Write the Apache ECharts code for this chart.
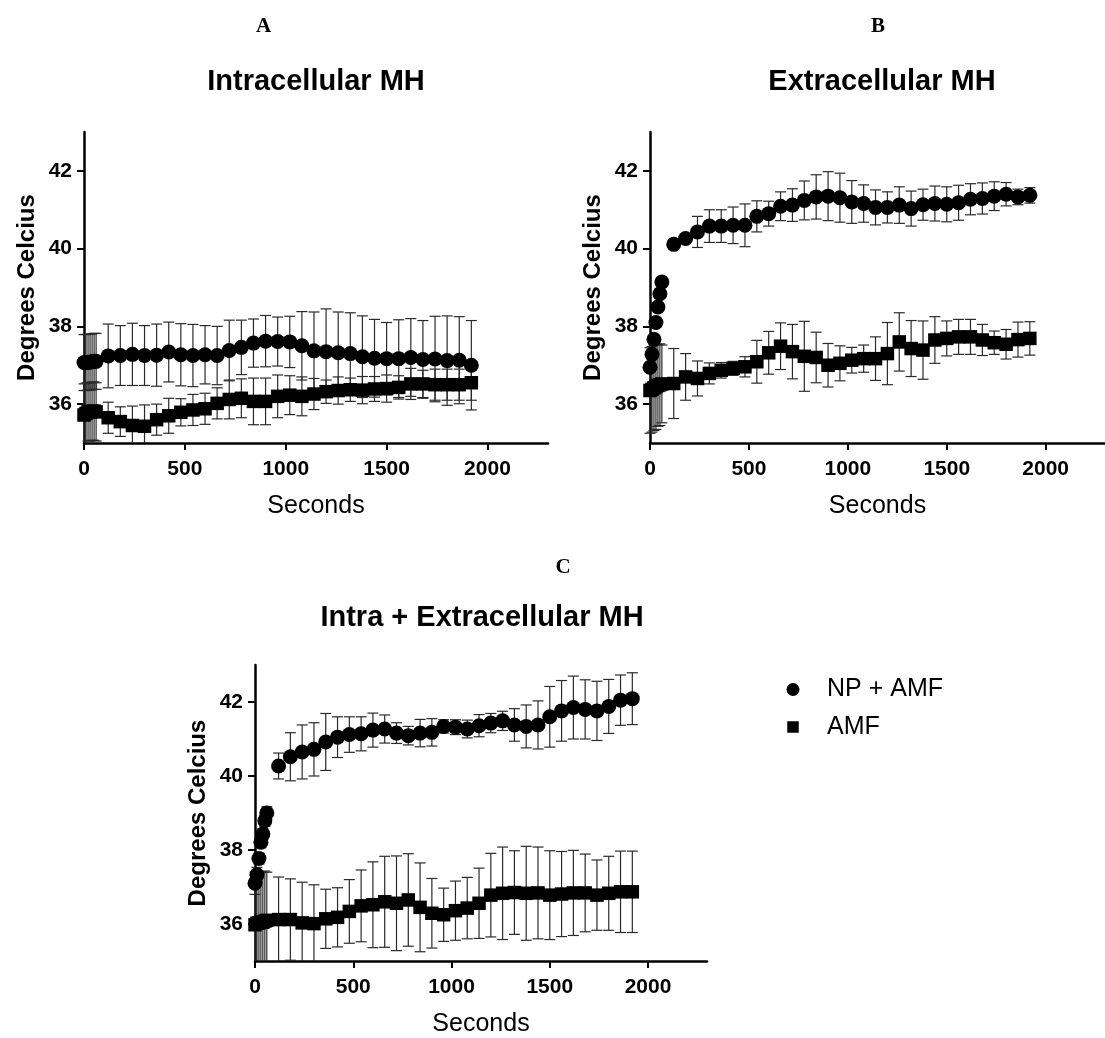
<!DOCTYPE html>
<html>
<head>
<meta charset="utf-8">
<script src="https://cdn.jsdelivr.net/npm/echarts@6/dist/echarts.min.js"></script>
<style>
  html, body { margin: 0; padding: 0; background: #fff; }
  #chart { width: 1105px; height: 1038px; }
</style>
</head>
<body>
<div id="chart"></div>
<script>
// Sampling times (s): dense during the first minute, then once per minute
const seconds = [0, 10, 20, 30, 40, 50, 60, 120, 180, 240, 300, 360, 420, 480, 540, 600, 660, 720, 780, 840, 900, 960, 1020, 1080, 1140, 1200, 1260, 1320, 1380, 1440, 1500, 1560, 1620, 1680, 1740, 1800, 1860, 1920];

// Panel A: intracellular MH (mean and SD, °C)
const intraNP = [37.07, 37.07, 37.08, 37.08, 37.09, 37.1, 37.1, 37.24, 37.25, 37.28, 37.25, 37.26, 37.34, 37.27, 37.25, 37.27, 37.25, 37.38, 37.46, 37.57, 37.62, 37.61, 37.6, 37.5, 37.37, 37.35, 37.32, 37.3, 37.22, 37.18, 37.17, 37.17, 37.2, 37.15, 37.16, 37.12, 37.13, 37.0];
const intraNPsd = [0.72, 0.72, 0.72, 0.72, 0.72, 0.72, 0.72, 0.82, 0.77, 0.8, 0.77, 0.8, 0.77, 0.8, 0.8, 0.75, 0.75, 0.78, 0.7, 0.62, 0.66, 0.63, 0.66, 0.88, 1.0, 1.1, 1.05, 1.05, 1.05, 1.0, 0.93, 1.0, 1.0, 1.0, 1.1, 1.15, 1.12, 1.15];
const intraAMF = [35.72, 35.76, 35.8, 35.8, 35.82, 35.82, 35.8, 35.65, 35.55, 35.45, 35.43, 35.6, 35.7, 35.79, 35.85, 35.88, 36.02, 36.12, 36.15, 36.07, 36.07, 36.2, 36.23, 36.2, 36.26, 36.32, 36.35, 36.37, 36.36, 36.39, 36.4, 36.43, 36.52, 36.52, 36.5, 36.5, 36.5, 36.55];
const intraAMFsd = [0.8, 0.78, 0.75, 0.75, 0.75, 0.75, 0.75, 0.4, 0.38, 0.5, 0.55, 0.4, 0.45, 0.35, 0.4, 0.4, 0.4, 0.5, 0.5, 0.6, 0.6, 0.55, 0.5, 0.5, 0.4, 0.3, 0.35, 0.3, 0.35, 0.32, 0.35, 0.3, 0.4, 0.35, 0.4, 0.4, 0.4, 0.45];

// Panel B: extracellular MH
const extraNP = [36.95, 37.28, 37.67, 38.1, 38.5, 38.84, 39.14, 40.11, 40.26, 40.43, 40.58, 40.58, 40.6, 40.6, 40.83, 40.9, 41.09, 41.12, 41.24, 41.33, 41.35, 41.31, 41.2, 41.16, 41.06, 41.06, 41.12, 41.03, 41.13, 41.16, 41.14, 41.18, 41.27, 41.29, 41.35, 41.4, 41.33, 41.37];
const extraNPsd = [0.08, 0.08, 0.08, 0.08, 0.08, 0.08, 0.08, 0.05, 0.06, 0.4, 0.42, 0.42, 0.47, 0.55, 0.4, 0.32, 0.37, 0.42, 0.5, 0.57, 0.63, 0.63, 0.55, 0.48, 0.45, 0.4, 0.47, 0.45, 0.4, 0.45, 0.45, 0.45, 0.4, 0.4, 0.37, 0.3, 0.2, 0.2];
const extraAMF = [36.35, 36.38, 36.42, 36.45, 36.48, 36.5, 36.52, 36.53, 36.7, 36.66, 36.79, 36.87, 36.92, 36.96, 37.09, 37.32, 37.49, 37.35, 37.23, 37.2, 37.0, 37.05, 37.13, 37.17, 37.17, 37.3, 37.6, 37.43, 37.39, 37.65, 37.69, 37.73, 37.73, 37.65, 37.58, 37.54, 37.66, 37.69];
const extraAMFsd = [1.1, 1.1, 1.1, 1.1, 1.05, 1.05, 1.0, 0.9, 0.6, 0.45, 0.27, 0.2, 0.18, 0.26, 0.55, 0.55, 0.6, 0.7, 0.9, 0.65, 0.56, 0.45, 0.33, 0.35, 0.56, 0.8, 0.75, 0.72, 0.75, 0.6, 0.45, 0.45, 0.45, 0.4, 0.3, 0.38, 0.45, 0.43];

// Panel C: intra + extracellular MH
const bothNP = [37.1, 37.33, 37.77, 38.21, 38.43, 38.79, 39.0, 40.27, 40.52, 40.65, 40.72, 40.92, 41.05, 41.12, 41.14, 41.24, 41.27, 41.16, 41.09, 41.16, 41.18, 41.34, 41.32, 41.27, 41.36, 41.43, 41.49, 41.38, 41.34, 41.38, 41.6, 41.76, 41.85, 41.8, 41.76, 41.88, 42.05, 42.09];
const bothNPsd = [0.3, 0.2, 0.15, 0.15, 0.15, 0.15, 0.17, 0.35, 0.65, 0.73, 0.72, 0.77, 0.55, 0.48, 0.46, 0.46, 0.38, 0.28, 0.25, 0.37, 0.37, 0.18, 0.2, 0.24, 0.3, 0.26, 0.26, 0.44, 0.58, 0.65, 0.82, 0.82, 0.85, 0.8, 0.8, 0.73, 0.68, 0.7];
const bothAMF = [35.98, 36.02, 36.03, 36.05, 36.05, 36.08, 36.1, 36.12, 36.12, 36.03, 36.01, 36.14, 36.18, 36.34, 36.49, 36.52, 36.6, 36.56, 36.65, 36.45, 36.29, 36.25, 36.36, 36.43, 36.56, 36.78, 36.83, 36.85, 36.83, 36.84, 36.78, 36.81, 36.84, 36.84, 36.78, 36.83, 36.87, 36.87];
const bothAMFsd = [1.35, 1.35, 1.35, 1.35, 1.35, 1.35, 1.3, 1.15, 1.1, 1.1, 1.05, 0.8, 0.8, 0.86, 0.97, 1.16, 1.23, 1.28, 1.25, 1.2, 0.94, 0.72, 0.8, 0.83, 0.95, 1.13, 1.25, 1.13, 1.27, 1.24, 1.2, 1.15, 1.15, 1.05, 0.95, 1.0, 1.1, 1.1];

// Axis ticks
const xTicks = [0, 500, 1000, 1500, 2000];
const yTicks = [36, 38, 40, 42];

const panelLetters = ['A', 'B', 'C'];
const panelTitles = ['Intracellular MH', 'Extracellular MH', 'Intra + Extracellular MH'];
const seriesNames = ['NP + AMF', 'AMF'];

const SANS = 'Liberation Sans, Arial, sans-serif';
const SERIF = 'Liberation Serif, Times New Roman, serif';

const panels = [
  { np: intraNP, npSd: intraNPsd, amf: intraAMF, amfSd: intraAMFsd },
  { np: extraNP, npSd: extraNPsd, amf: extraAMF, amfSd: extraAMFsd },
  { np: bothNP, npSd: bothNPsd, amf: bothAMF, amfSd: bothAMFsd }
];

const grids = [
  { left: 84, top: 132, width: 464, height: 311 },
  { left: 650, top: 132, width: 464, height: 311 },
  { left: 255, top: 665, width: 452, height: 301 }
];

function withSd(mean, sd) {
  return seconds.map((t, i) => [t, mean[i], sd[i]]);
}

// Vertical SD bar with caps, clipped to the plotting area
function renderErrorBar(params, api) {
  const x = api.value(0), y = api.value(1), e = api.value(2);
  const hi = api.coord([x, y + e]);
  const lo = api.coord([x, y - e]);
  const cs = params.coordSys;
  const top = cs.y, bottom = cs.y + cs.height;
  const half = 5.5;
  const style = { stroke: '#2a2a2a', lineWidth: 1.2 };
  const children = [];
  const y1 = Math.max(hi[1], top), y2 = Math.min(lo[1], bottom);
  children.push({ type: 'line', shape: { x1: hi[0], y1: y1, x2: hi[0], y2: y2 }, style: style });
  if (hi[1] >= top) children.push({ type: 'line', shape: { x1: hi[0] - half, y1: hi[1], x2: hi[0] + half, y2: hi[1] }, style: style });
  if (lo[1] <= bottom) children.push({ type: 'line', shape: { x1: lo[0] - half, y1: lo[1], x2: lo[0] + half, y2: lo[1] }, style: style });
  return { type: 'group', children: children };
}

const plain = v => String(v);

const xAxes = [], yAxes = [], series = [];
panels.forEach((p, k) => {
  xAxes.push({
    gridIndex: k, type: 'value', min: 0, max: 2300,
    name: 'Seconds', nameLocation: 'middle', nameGap: 51,
    nameTextStyle: { fontFamily: SANS, fontSize: 25, color: '#000' },
    axisLine: { show: true, onZero: false, lineStyle: { color: '#000', width: 2.5 } },
    axisTick: { show: true, customValues: xTicks, length: 7, lineStyle: { color: '#000', width: 2 } },
    axisLabel: { customValues: xTicks, formatter: plain, fontFamily: SANS, fontWeight: 'bold', fontSize: 21, color: '#000', margin: 16 },
    splitLine: { show: false }
  });
  yAxes.push({
    gridIndex: k, type: 'value', min: 35, max: 43,
    name: 'Degrees Celcius', nameLocation: 'middle', nameGap: 45,
    nameTextStyle: { fontFamily: SANS, fontSize: 24, fontWeight: 'bold', color: '#000' },
    axisLine: { show: true, onZero: false, lineStyle: { color: '#000', width: 2.5 } },
    axisTick: { show: true, customValues: yTicks, length: 7, lineStyle: { color: '#000', width: 2 } },
    axisLabel: { customValues: yTicks, formatter: plain, fontFamily: SANS, fontWeight: 'bold', fontSize: 21, color: '#000', margin: 12 },
    splitLine: { show: false }
  });
  series.push(
    { type: 'custom', name: seriesNames[0] + ' SD', xAxisIndex: k, yAxisIndex: k, renderItem: renderErrorBar, data: withSd(p.np, p.npSd), z: 2, silent: true },
    { type: 'custom', name: seriesNames[1] + ' SD', xAxisIndex: k, yAxisIndex: k, renderItem: renderErrorBar, data: withSd(p.amf, p.amfSd), z: 2, silent: true },
    { type: 'scatter', name: seriesNames[0], xAxisIndex: k, yAxisIndex: k, symbol: 'circle', symbolSize: 15,
      itemStyle: { color: '#000', opacity: 1 }, data: seconds.map((t, i) => [t, p.np[i]]), z: 3, silent: true },
    { type: 'scatter', name: seriesNames[1], xAxisIndex: k, yAxisIndex: k, symbol: 'rect', symbolSize: 13.5,
      itemStyle: { color: '#000', opacity: 1 }, data: seconds.map((t, i) => [t, p.amf[i]]), z: 3, silent: true }
  );
});

// Panel letters and headings
const letterPos = [[263.5, 27], [878, 27], [563, 568]];
const titlePos = [[316, 82], [882, 82], [482, 618]];
const graphics = [];
panelLetters.forEach((L, k) => {
  graphics.push({ type: 'text', x: letterPos[k][0], y: letterPos[k][1],
    style: { text: L, font: 'bold 21px ' + SERIF, fill: '#000', textAlign: 'center', textVerticalAlign: 'middle' } });
  graphics.push({ type: 'text', x: titlePos[k][0], y: titlePos[k][1],
    style: { text: panelTitles[k], font: 'bold 29px ' + SANS, fill: '#000', textAlign: 'center', textVerticalAlign: 'middle' } });
});

const chart = echarts.init(document.getElementById('chart'), null, { renderer: 'canvas' });
chart.setOption({
  backgroundColor: '#fff',
  animation: false,
  grid: grids,
  xAxis: xAxes,
  yAxis: yAxes,
  legend: {
    orient: 'vertical', left: 759, top: 672,
    itemWidth: 58, itemHeight: 13, itemGap: 12.5,
    selectedMode: false,
    textStyle: { fontFamily: SANS, fontSize: 25, color: '#000', lineHeight: 25 },
    data: [
      { name: seriesNames[0], icon: 'circle' },
      { name: seriesNames[1], icon: 'path://M0,0M23.25,0.75h11.5v11.5h-11.5zM58,13' }
    ]
  },
  graphic: graphics,
  series: series
});
</script>
</body>
</html>
